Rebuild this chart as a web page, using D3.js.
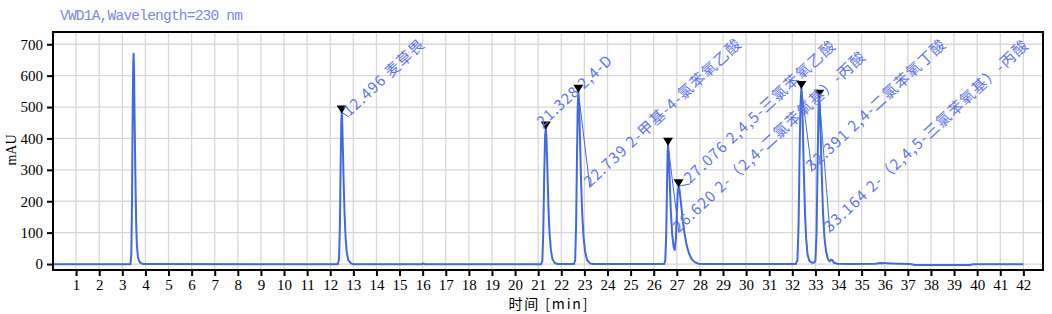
<!DOCTYPE html>
<html>
<head>
<meta charset="utf-8">
<script src="https://cdn.jsdelivr.net/npm/d3@7"></script>
<style>
    body { margin: 0; background: #fff; }
    svg { display: block; }
</style>
</head>
<body>
<div id="chart"></div>
<script>
// chromatogram trace (min, mAU)
var traceTime = [
    0, 3.30,
    3.35, 3.39, 3.42, 3.45, 3.47, 3.49, 3.51, 3.54, 3.57, 3.60, 3.63, 3.68, 3.76, 3.90,
    12.30, 12.33, 12.38, 12.42, 12.45, 12.48, 12.50, 12.52, 12.55, 12.58, 12.62, 12.66, 12.71, 12.78, 12.90, 13.00,
    15.95, 16.02, 16.10,
    21.12, 21.18, 21.22, 21.26, 21.30, 21.33, 21.36, 21.40, 21.44, 21.49, 21.55, 21.62, 21.72, 21.85,
    22.55, 22.60, 22.64, 22.68, 22.71, 22.74, 22.77, 22.81, 22.85, 22.90, 22.96, 23.03, 23.12, 23.25, 23.40,
    26.45, 26.50, 26.54, 26.57, 26.60, 26.62, 26.65, 26.69, 26.74, 26.80, 26.86, 26.91, 26.96, 27.00, 27.04, 27.08,
    27.12, 27.18, 27.25, 27.33, 27.42, 27.52, 27.64, 27.78, 27.95, 28.10,
    32.15, 32.22, 32.27, 32.31, 32.35, 32.39, 32.42, 32.46, 32.50, 32.55, 32.60, 32.66, 32.74, 32.85, 32.95,
    33.00, 33.05, 33.09, 33.13, 33.16, 33.19, 33.23, 33.28, 33.33, 33.39, 33.46, 33.54, 33.62, 33.68, 33.74, 33.80, 33.95,
    34.50, 35.60, 35.80, 36.30, 36.60, 37.10, 37.30, 39.70, 39.80, 42.00
]
var traceMAU = [
    -1, -1,
    0, 30, 200, 500, 630, 670, 600, 420, 260, 130, 60, 20, 5, 0,
    -1, 0, 15, 130, 320, 460, 483, 450, 360, 260, 160, 90, 40, 12, 2, -1,
    -1, 2, -1,
    -1, 10, 100, 280, 410, 432, 400, 300, 190, 100, 45, 15, 3, 0,
    0, 12, 120, 340, 500, 549, 510, 400, 280, 170, 90, 40, 12, 2, 0,
    0, 10, 90, 220, 350, 380, 350, 270, 170, 95, 55, 45, 80, 160, 225, 248,
    235, 195, 145, 100, 62, 35, 16, 6, 1, 0,
    0, 12, 120, 330, 500, 561, 530, 420, 290, 160, 80, 30, 10, 4, 5,
    10, 100, 300, 480, 533, 500, 400, 270, 160, 85, 40, 16, 8, 14, 12, 4, 1,
    0, 1, 3, 2, 1, 0, -3, -3, -1, -1
]

// integrated peaks
var peakTime = [12.496, 21.328, 22.739, 26.620, 27.076, 32.391, 33.164]
var peakMAU = [483, 432, 549, 380, 248, 561, 533]
var peakName = ["麦草畏", "2,4-D", "2-甲基-4-氯苯氧乙酸", "2-（2,4-二氯苯氧基）-丙酸",
    "2,4,5-三氯苯氧乙酸", "2,4-二氯苯氧丁酸", "2-（2,4,5-三氯苯氧基）-丙酸"]
// where each label text starts (min, mAU)
var labelTime = [12.82, 21.20, 23.24, 27.09, 27.57, 32.85, 33.63]
var labelMAU = [468, 434, 243, 99, 255, 294, 100]

var xTicks = d3.range(1, 43)
var yTicks = d3.range(0, 800, 100)

var width = 1052, height = 314
var plotLeft = 53, plotRight = 1043, plotTop = 32, plotBottom = 270
var blue = "#4169e1"
var labelBlue = "#5f74ea"

var svg = d3.select("#chart").append("svg")
    .attr("width", width)
    .attr("height", height)

var x = d3.scaleLinear().domain([0, 42.85]).range([plotLeft, plotRight])
var y = d3.scaleLinear().domain([-19, 739]).range([plotBottom, plotTop])

// grid
svg.append("g").selectAll("line")
    .data(xTicks)
    .join("line")
    .attr("x1", d => x(d)).attr("x2", d => x(d))
    .attr("y1", plotTop).attr("y2", plotBottom)
    .attr("stroke", "#d8d8d8").attr("stroke-width", 1.3)
svg.append("g").selectAll("line")
    .data(yTicks)
    .join("line")
    .attr("x1", plotLeft).attr("x2", plotRight)
    .attr("y1", d => y(d)).attr("y2", d => y(d))
    .attr("stroke", "#d8d8d8").attr("stroke-width", 1.3)

// axes
var xAxis = svg.append("g")
    .attr("transform", `translate(0,${plotBottom})`)
    .call(d3.axisBottom(x).tickValues(xTicks).tickSize(6).tickPadding(3).tickFormat(d3.format("d")))
var yAxis = svg.append("g")
    .attr("transform", `translate(${plotLeft},0)`)
    .call(d3.axisLeft(y).tickValues(yTicks).tickSize(6).tickPadding(4).tickFormat(d3.format("d")))
;[xAxis, yAxis].forEach(ax => {
    ax.select(".domain").remove()
    ax.selectAll(".tick line").attr("stroke", "#000").attr("stroke-width", 2)
    ax.selectAll(".tick text")
        .attr("fill", "#000")
        .style("font-family", "'Liberation Serif', 'DejaVu Serif', serif")
        .style("font-size", "15px")
})

// signal
var pts = traceTime.map((t, i) => [t, traceMAU[i]])
var line = d3.line().x(d => x(d[0])).y(d => y(d[1]))
svg.append("path")
    .datum(pts)
    .attr("d", line)
    .attr("fill", "none")
    .attr("stroke", blue)
    .attr("stroke-width", 2)
    .attr("stroke-linejoin", "round")

// frame
svg.append("rect")
    .attr("x", plotLeft).attr("y", plotTop)
    .attr("width", plotRight - plotLeft).attr("height", plotBottom - plotTop)
    .attr("fill", "none").attr("stroke", "#000").attr("stroke-width", 2)

// half width latin, full width CJK, like the instrument font
function textWidth (str, unit) {
    return str.split("").reduce((s, c) => s + (c.charCodeAt(0) > 0x2e80 ? 1 : 0.5), 0) * unit
}

var peaks = peakTime.map((t, i) => ({
    t: t, v: peakMAU[i], name: peakName[i], lt: labelTime[i], lv: labelMAU[i],
    text: t.toFixed(3) + " " + peakName[i]
}))

// leader lines
svg.append("g").selectAll("line")
    .data(peaks)
    .join("line")
    .attr("x1", d => x(d.t)).attr("y1", d => y(d.v))
    .attr("x2", d => x(d.lt)).attr("y2", d => y(d.lv))
    .attr("stroke", blue).attr("stroke-width", 1)

// peak markers
svg.append("g").selectAll("path")
    .data(peaks)
    .join("path")
    .attr("d", d => {
        var px = x(d.t), py = y(d.v)
        return `M${px - 5},${py - 7}L${px + 5},${py - 7}L${px},${py + 1}Z`
    })
    .attr("fill", "#000")

// labels
svg.append("g").selectAll("text")
    .data(peaks)
    .join("text")
    .attr("transform", d => `translate(${x(d.lt)},${y(d.lv)}) rotate(-43)`)
    .attr("textLength", d => textWidth(d.text, 16))
    .attr("fill", labelBlue)
    .style("font-family", "'Noto Sans CJK SC', sans-serif")
    .style("font-size", "15px")
    .text(d => d.text)

// title and axis names
svg.append("text")
    .attr("x", 60).attr("y", 20)
    .attr("textLength", 183)
    .attr("fill", "#7f86ee")
    .style("font-family", "'Liberation Mono', monospace")
    .style("font-size", "14.5px")
    .text("VWD1A,Wavelength=230 nm")

svg.append("text")
    .attr("transform", "translate(16,150) rotate(-90)")
    .attr("text-anchor", "middle")
    .attr("fill", "#000")
    .style("font-family", "'Liberation Serif', serif")
    .style("font-size", "14px")
    .text("mAU")

svg.append("text")
    .attr("x", 548).attr("y", 309)
    .attr("text-anchor", "middle")
    .attr("textLength", 79)
    .attr("fill", "#000")
    .style("font-family", "'Noto Sans CJK SC', sans-serif")
    .style("font-size", "14px")
    .text("时间 [min]")
</script>
</body>
</html>
